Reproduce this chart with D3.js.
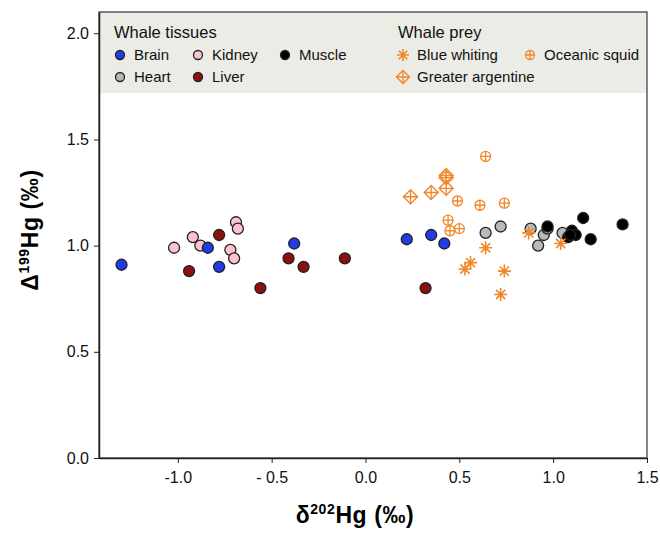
<!DOCTYPE html>
<html>
<head>
<meta charset="utf-8">
<title>Hg isotopes</title>
<script src="https://cdn.jsdelivr.net/npm/d3@7"></script>
<style>
  body { margin: 0; background: #fff; }
  svg text { font-family: "Liberation Sans", Arial, sans-serif; }
</style>
</head>
<body>
<svg id="chart" width="660" height="534"></svg>
<script>
// δ202Hg (x) and Δ199Hg (y)
const brain  = [[-1.30, 0.91], [-0.84, 0.99], [-0.78, 0.90], [-0.38, 1.01], [0.22, 1.03], [0.35, 1.05], [0.42, 1.01]];
const kidney = [[-1.02, 0.99], [-0.92, 1.04], [-0.88, 1.00], [-0.69, 1.11], [-0.68, 1.08], [-0.72, 0.98], [-0.70, 0.94]];
const liver  = [[-0.78, 1.05], [-0.94, 0.88], [-0.56, 0.80], [-0.41, 0.94], [-0.33, 0.90], [-0.11, 0.94], [0.32, 0.80]];
const heart  = [[0.64, 1.06], [0.72, 1.09], [0.88, 1.08], [0.95, 1.05], [0.92, 1.00], [0.97, 1.08], [1.05, 1.06]];
const muscle = [[0.97, 1.09], [1.10, 1.07], [1.12, 1.05], [1.08, 1.04], [1.09, 1.05], [1.16, 1.13], [1.20, 1.03], [1.37, 1.10]];
const blueWhiting = [[0.64, 0.99], [0.56, 0.92], [0.53, 0.89], [0.74, 0.88], [0.72, 0.77], [0.87, 1.06], [1.04, 1.01]];
const oceanicSquid = [[0.64, 1.42], [0.49, 1.21], [0.61, 1.19], [0.74, 1.20], [0.44, 1.12], [0.45, 1.07], [0.50, 1.08]];
const greaterArgentine = [[0.24, 1.23], [0.35, 1.25], [0.43, 1.27], [0.43, 1.32], [0.43, 1.33]];

const xTicks = [-1.0, -0.5, 0.0, 0.5, 1.0, 1.5];
const xTickLabels = ["-1.0", "- 0.5", "0.0", "0.5", "1.0", "1.5"];
const yTicks = [0.0, 0.5, 1.0, 1.5, 2.0];

const svg = d3.select("#chart");
const m = {left: 99, right: 647, top: 12, bottom: 458};
const x = d3.scaleLinear().domain([-1.42, 1.5]).range([m.left, m.right]);
const y = d3.scaleLinear().domain([0, 2.1]).range([m.bottom, m.top]);

const orange = "#f0882a";
const tissueColors = {Brain: "#1f3ce6", Kidney: "#fbc3cb", Muscle: "#000", Heart: "#b9b9b9", Liver: "#8c1010"};

// legend panel
svg.append("rect").attr("x", m.left).attr("y", m.top)
  .attr("width", m.right - m.left).attr("height", 81)
  .attr("fill", "#ecece6");

// frame
svg.append("rect").attr("x", m.left).attr("y", m.top)
  .attr("width", m.right - m.left).attr("height", m.bottom - m.top)
  .attr("fill", "none").attr("stroke", "#444").attr("stroke-width", 1.3);

// axes
const xAxis = svg.append("g").attr("transform", `translate(0,${m.bottom})`)
  .call(d3.axisBottom(x).tickValues(xTicks).tickSize(5).tickSizeOuter(0)
    .tickFormat((d, i) => xTickLabels[i]));
xAxis.select(".domain").attr("stroke", "#222").attr("stroke-width", 1.5);
xAxis.selectAll(".tick line").attr("stroke", "#222");
xAxis.selectAll("text").attr("font-size", 16).attr("dy", "1.05em").attr("fill", "#111");

const yAxis = svg.append("g").attr("transform", `translate(${m.left},0)`)
  .call(d3.axisLeft(y).tickValues(yTicks).tickSize(5).tickSizeOuter(0).tickFormat(d3.format(".1f")));
yAxis.select(".domain").attr("stroke", "#222").attr("stroke-width", 1.5);
yAxis.selectAll(".tick line").attr("stroke", "#222");
yAxis.selectAll("text").attr("font-size", 16).attr("x", -10).attr("fill", "#111");

// axis titles
const xt = svg.append("text").attr("x", 355).attr("y", 523).attr("text-anchor", "middle")
  .attr("font-size", 23).attr("font-weight", "bold").attr("letter-spacing", 0.6);
xt.append("tspan").text("δ");
xt.append("tspan").attr("font-size", 14).attr("dy", -9).text("202");
xt.append("tspan").attr("dy", 9).text("Hg (‰)");

const yt = svg.append("text").attr("transform", "translate(38,230) rotate(-90)")
  .attr("text-anchor", "middle").attr("font-size", 23).attr("font-weight", "bold").attr("letter-spacing", 0.6);
yt.append("tspan").text("Δ");
yt.append("tspan").attr("font-size", 14).attr("dy", -9).text("199");
yt.append("tspan").attr("dy", 9).text("Hg (‰)");

// marker shapes
function circleMark(g, fill, r) {
  g.append("circle").attr("r", r).attr("fill", fill).attr("stroke", "#222").attr("stroke-width", 1.3);
}
function starMark(g, s) {
  const p = d3.path();
  for (let k = 0; k < 4; k++) {
    const a = k * Math.PI / 4;
    p.moveTo(-s * Math.cos(a), -s * Math.sin(a));
    p.lineTo(s * Math.cos(a), s * Math.sin(a));
  }
  g.append("path").attr("d", p.toString()).attr("stroke", orange).attr("stroke-width", 1.6).attr("fill", "none");
}
function squidMark(g, r) {
  g.append("circle").attr("r", r).attr("fill", "none").attr("stroke", orange).attr("stroke-width", 1.3);
  g.append("path").attr("d", `M${-r},0H${r}M0,${-r}V${r}`).attr("stroke", orange).attr("stroke-width", 1.3);
}
function diamondMark(g, s) {
  g.append("path").attr("d", `M0,${-s}L${s},0L0,${s}L${-s},0Z`)
    .attr("fill", "none").attr("stroke", orange).attr("stroke-width", 1.4);
  g.append("path").attr("d", `M${-s},0H${s}M0,${-s}V${s}`).attr("stroke", orange).attr("stroke-width", 1.3);
}

function plotSeries(data, draw) {
  svg.append("g").selectAll("g").data(data).enter().append("g")
    .attr("transform", d => `translate(${x(d[0])},${y(d[1])})`)
    .each(function () { draw(d3.select(this)); });
}

plotSeries(greaterArgentine, g => diamondMark(g, 7));
plotSeries(oceanicSquid, g => squidMark(g, 5));
plotSeries(kidney, g => circleMark(g, tissueColors.Kidney, 5.5));
plotSeries(liver, g => circleMark(g, tissueColors.Liver, 5.5));
plotSeries(brain, g => circleMark(g, tissueColors.Brain, 5.5));
plotSeries(heart, g => circleMark(g, tissueColors.Heart, 5.5));
plotSeries(muscle, g => circleMark(g, tissueColors.Muscle, 5.5));
plotSeries(blueWhiting, g => starMark(g, 6.5));

// legend
const lg = svg.append("g").attr("font-size", 15).attr("fill", "#111");
lg.append("text").attr("x", 114).attr("y", 38).attr("font-size", 16.5).text("Whale tissues");
lg.append("text").attr("x", 398).attr("y", 38).attr("font-size", 16.5).text("Whale prey");

const tissueLegend = [
  {name: "Brain", x: 120, y: 55}, {name: "Kidney", x: 198, y: 55}, {name: "Muscle", x: 285, y: 55},
  {name: "Heart", x: 120, y: 77}, {name: "Liver", x: 198, y: 77}
];
tissueLegend.forEach(t => {
  const g = lg.append("g").attr("transform", `translate(${t.x},${t.y})`);
  circleMark(g, tissueColors[t.name], 4.5);
  g.append("text").attr("x", 14).attr("dy", "0.36em").text(t.name);
});

const preyLegend = [
  {name: "Blue whiting", x: 403, y: 55, draw: g => starMark(g, 6)},
  {name: "Oceanic squid", x: 530, y: 55, draw: g => squidMark(g, 4.5)},
  {name: "Greater argentine", x: 403, y: 77, draw: g => diamondMark(g, 6.5)}
];
preyLegend.forEach(t => {
  const g = lg.append("g").attr("transform", `translate(${t.x},${t.y})`);
  t.draw(g);
  g.append("text").attr("x", 14).attr("dy", "0.36em").text(t.name);
});
</script>
</body>
</html>
